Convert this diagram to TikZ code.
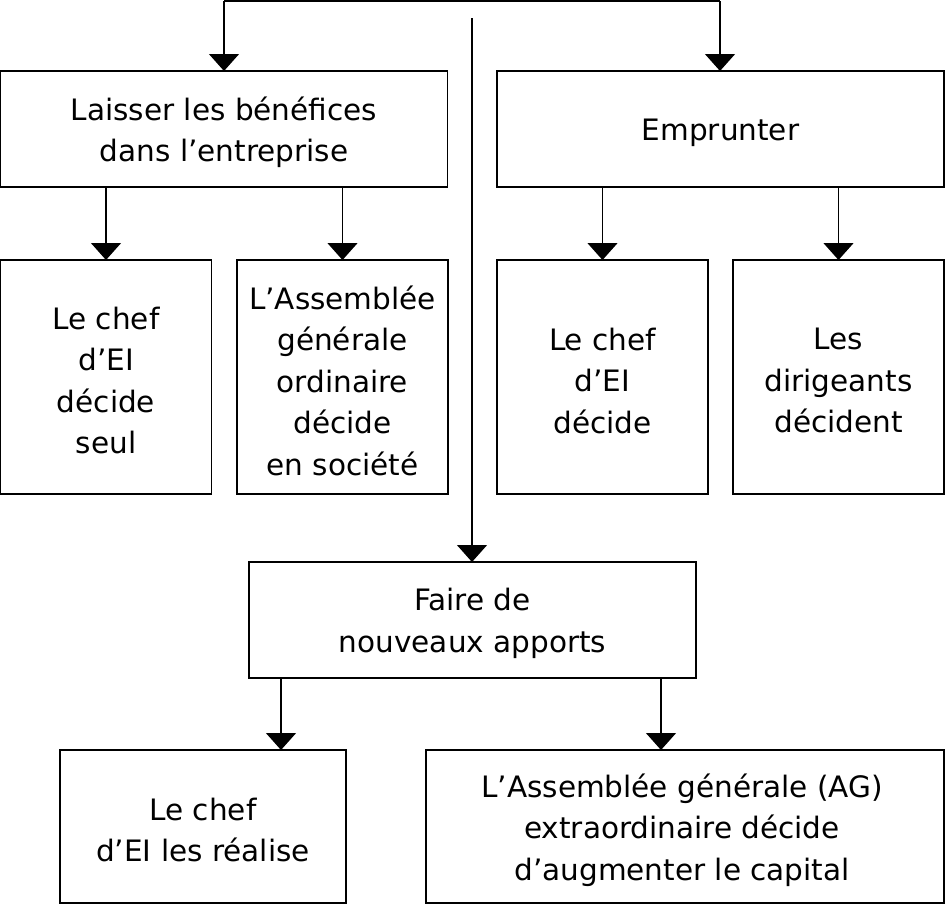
\documentclass[tikz,border=0pt]{standalone}
\usepackage{fontspec}
\setmainfont{DejaVu Sans}
\usetikzlibrary{arrows.meta}
\begin{document}
\begin{tikzpicture}[x=1pt,y=-1pt,
  box/.style={draw,line width=1.3pt,inner sep=0pt,outer sep=0pt},
  lbl/.style={align=center,inner sep=0pt,yshift=-3.5pt,
    font=\fontsize{29.5}{41.5}\selectfont},
  conn/.style={line width=1.3pt,-{Triangle[width=30pt,length=17pt]}},
  plain/.style={line width=1.3pt}]
\useasboundingbox (0,0) rectangle (945,906);
\node[box,minimum width=447pt,minimum height=116pt,label={[lbl]center:{Laisser les bénéfices\\dans l’entreprise}}] (A) at (224,129) {};
\node[box,minimum width=447pt,minimum height=116pt,label={[lbl]center:{Emprunter}}] (B) at (720.5,129) {};
\node[box,minimum width=211pt,minimum height=234pt,label={[lbl]center:{Le chef\\d’EI\\décide\\seul}}] (C1) at (106,377) {};
\node[box,minimum width=211pt,minimum height=234pt,label={[lbl]center:{L’Assemblée\\générale\\ordinaire\\décide\\en société}}] (C2) at (342.5,377) {};
\node[box,minimum width=211pt,minimum height=234pt,label={[lbl]center:{Le chef\\d’EI\\décide}}] (C3) at (602.5,377) {};
\node[box,minimum width=211pt,minimum height=234pt,label={[lbl]center:{Les\\dirigeants\\décident}}] (C4) at (838.5,377) {};
\node[box,minimum width=447pt,minimum height=116pt,label={[lbl]center:{Faire de\\nouveaux apports}}] (D) at (472.5,620) {};
\node[box,minimum width=286pt,minimum height=153pt,label={[lbl]center:{Le chef\\d’EI les réalise}}] (E1) at (203,826.5) {};
\node[box,minimum width=518pt,minimum height=153pt,label={[lbl,xshift=-3pt]center:{L’Assemblée générale (AG)\\extraordinaire décide\\d’augmenter le capital}}] (E2) at (685,826.5) {};
\coordinate (t1) at (224,1);
\coordinate (t2) at (720,1);
\coordinate (s) at (472,18);
\draw[plain] (t1) -- (t2);
\draw[conn] (t1) -- (A.north);
\draw[conn] (t2) -- (B.north -| t2);
\draw[conn] (s) -- (s |- D.north);
\draw[conn] (A.south -| C1) -- (C1.north);
\draw[conn] (A.south -| C2) -- (C2.north);
\draw[conn] (B.south -| C3) -- (C3.north);
\draw[conn] (B.south -| C4) -- (C4.north);
\coordinate (d1) at (281,678);
\coordinate (d2) at (661,678);
\draw[conn] (d1 |- D.south) -- (d1 |- E1.north);
\draw[conn] (d2 |- D.south) -- (d2 |- E2.north);
\end{tikzpicture}
\end{document}
